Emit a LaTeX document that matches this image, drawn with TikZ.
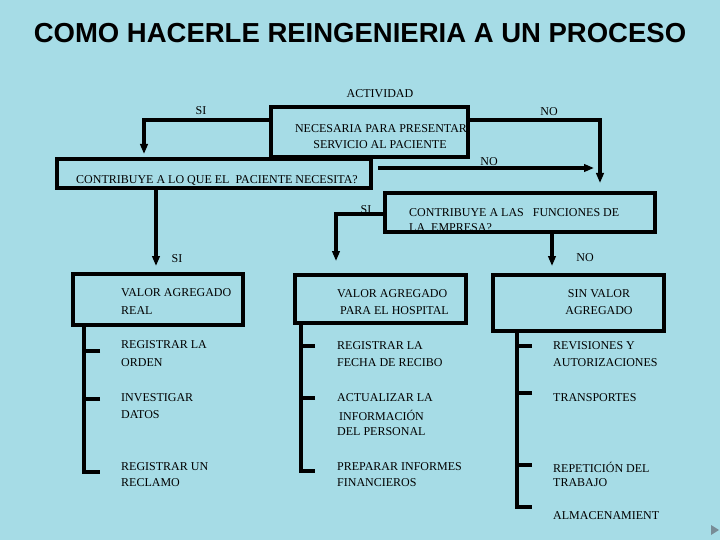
\documentclass[tikz,border=0pt]{standalone}
\usepackage{fontspec}
\setmainfont{Liberation Serif}
\newfontfamily\titlefont{Liberation Sans}
\usetikzlibrary{arrows.meta}
\definecolor{bgblue}{RGB}{166,220,230}
\definecolor{navgray}{RGB}{120,140,150}
\tikzset{
  box/.style={draw=black, line width=4pt, inner sep=0pt},
  conn/.style={line width=4pt},
  arr/.style={line width=4pt, -{Triangle[length=10pt,width=7.5pt]}},
  txt/.style={font=\fontsize{12}{14}\selectfont, inner sep=0pt, anchor=west},
  ctxt/.style={font=\fontsize{12}{14}\selectfont, inner sep=0pt},
}
\begin{document}
\begin{tikzpicture}[x=1pt,y=-1pt]
\useasboundingbox (0,0) rectangle (720,540);
\fill[bgblue] (0,0) rectangle (720,540);

% title
\node[font=\titlefont\bfseries\fontsize{27.5}{30}\selectfont, inner sep=0pt] (title) at (360,33) {COMO HACERLE REINGENIERIA A UN PROCESO};

% texts drawn before boxes
\node[ctxt] (tact) at (380,94) {ACTIVIDAD};
\node[ctxt] (tnec) at (381,129) {NECESARIA PARA PRESENTAR};
\node[ctxt] (tser) at (380,145) {SERVICIO AL PACIENTE};
\node[ctxt] (tcon) at (217,181) {CONTRIBUYE A LO QUE EL\ \ PACIENTE NECESITA?};
\node[txt] (tfun) at (409,213) {CONTRIBUYE A LAS\ \ \ FUNCIONES DE};
\node[txt] (temp) at (409,228) {LA\ \ EMPRESA?};

% boxes
\node[box, minimum width=197pt, minimum height=50pt] (b1) at (369.5,132) {};
\node[box, minimum width=314pt, minimum height=29pt] (b2) at (214,173.5) {};
\node[box, minimum width=270pt, minimum height=39pt] (b3) at (520,212.5) {};
\node[box, minimum width=170pt, minimum height=51pt] (b4) at (158,299.5) {};
\node[box, minimum width=171pt, minimum height=48pt] (b5) at (380.5,299) {};
\node[box, minimum width=171pt, minimum height=56pt] (b6) at (578.5,303) {};

% box texts
\node[txt] (v1a) at (121,293) {VALOR AGREGADO};
\node[txt] (v1b) at (121,311) {REAL};
\node[txt] (v2a) at (337,294) {VALOR AGREGADO};
\node[txt] (v2b) at (340,311) {PARA EL HOSPITAL};
\node[ctxt] (v3a) at (599,294) {SIN VALOR};
\node[ctxt] (v3b) at (599,311) {AGREGADO};

% connectors
\draw[arr] ([yshift=12pt]b1.west) -| ([xshift=-70pt,yshift=3pt]b2.north);
\draw[arr] ([yshift=12pt]b1.east) -| ([xshift=80pt,yshift=8pt]b3.north);
\coordinate (n2s) at (378,168);
\coordinate (n2e) at (594,168);
\draw[arr] (n2s) -- (n2e);
\draw[arr] ([yshift=-1.5pt]b3.west) -| ([xshift=-44.5pt,yshift=12pt]b5.north);
\draw[arr] ([xshift=32pt]b3.south) -- ([xshift=-26.5pt,yshift=7pt]b6.north);
\draw[arr] ([xshift=-58pt]b2.south) -- ([xshift=-2pt,yshift=6pt]b4.north);

% connector labels
\node[ctxt] (lsi1) at (201,111) {SI};
\node[ctxt] (lno1) at (549,112) {NO};
\node[ctxt] (lno2) at (489,162) {NO};
\node[ctxt] (lsi3) at (366,210) {SI};
\node[ctxt] (lno3) at (585,258) {NO};
\node[ctxt] (lsi2) at (177,259) {SI};

% left list
\coordinate (av) at ([xshift=-74pt]b4.south);
\coordinate (a1) at (100,351);
\coordinate (a2) at (100,399);
\coordinate (a3) at (100,472);
\draw[conn] (av) |- (a3);
\draw[conn] (a1) -- (a1 -| av);
\draw[conn] (a2) -- (a2 -| av);
\node[txt] (l1a) at (121,345) {REGISTRAR LA};
\node[txt] (l1b) at (121,363) {ORDEN};
\node[txt] (l2a) at (121,398) {INVESTIGAR};
\node[txt] (l2b) at (121,415) {DATOS};
\node[txt] (l3a) at (121,467) {REGISTRAR UN};
\node[txt] (l3b) at (121,483) {RECLAMO};

% middle list
\coordinate (mv) at ([xshift=-79.5pt]b5.south);
\coordinate (m1) at (315,346);
\coordinate (m2) at (315,398);
\coordinate (m3) at (315,471);
\draw[conn] (mv) |- (m3);
\draw[conn] (m1) -- (m1 -| mv);
\draw[conn] (m2) -- (m2 -| mv);
\node[txt] (k1a) at (337,346) {REGISTRAR LA};
\node[txt] (k1b) at (337,363) {FECHA DE RECIBO};
\node[txt] (k2a) at (337,398) {ACTUALIZAR LA};
\node[txt] (k2b) at (339,415) {INFORMACIÓN};
\node[txt] (k2c) at (337,432) {DEL PERSONAL};
\node[txt] (k3a) at (337,467) {PREPARAR INFORMES};
\node[txt] (k3b) at (337,483) {FINANCIEROS};

% right list
\coordinate (rv) at ([xshift=-61.5pt]b6.south);
\coordinate (r1) at (532,346);
\coordinate (r2) at (532,393);
\coordinate (r3) at (532,465);
\coordinate (r4) at (532,507);
\draw[conn] (rv) |- (r4);
\draw[conn] (r1) -- (r1 -| rv);
\draw[conn] (r2) -- (r2 -| rv);
\draw[conn] (r3) -- (r3 -| rv);
\node[txt] (s1a) at (553,346) {REVISIONES Y};
\node[txt] (s1b) at (553,363) {AUTORIZACIONES};
\node[txt] (s2a) at (553,398) {TRANSPORTES};
\node[txt] (s3a) at (553,467) {REPETICIÓN DEL};
\node[txt] (s3b) at (553,483) {TRABAJO};
\node[txt] (s4a) at (553,516) {ALMACENAMIENT};

% navigation triangle
\fill[navgray] (711,525) -- (719,530) -- (711,535) -- cycle;
\end{tikzpicture}
\end{document}
